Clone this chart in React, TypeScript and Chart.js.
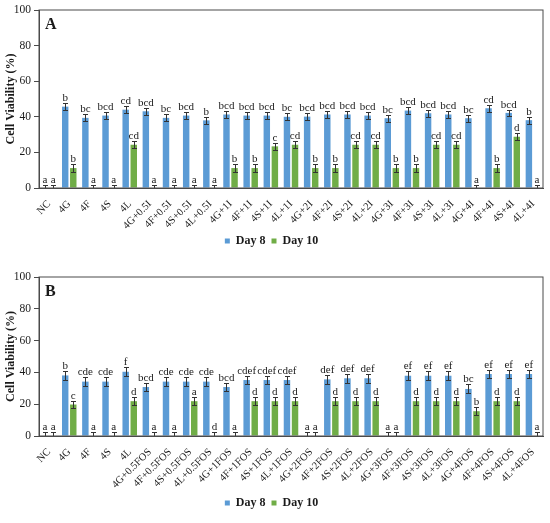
import { useEffect, useRef } from "react";
import { Chart, registerables } from "chart.js";

Chart.register(...registerables);

const SERIF = '"Liberation Serif", "Times New Roman", serif';
const BLUE = "#5B9BD5";
const GREEN = "#70AD47";
const INK = "#1a1a1a";
const LINE = "#4a4a4a";

const seriesNames = ["Day 8", "Day 10"];
const yTicksMax = 100;
const yTickStep = 20;

// ---------- Panel A ----------
const categoriesA = [
  "NC", "4G", "4F", "4S", "4L",
  "4G+0.5I", "4F+0.5I", "4S+0.5I", "4L+0.5I",
  "4G+1I", "4F+1I", "4S+1I", "4L+1I",
  "4G+2I", "4F+2I", "4S+2I", "4L+2I",
  "4G+3I", "4F+3I", "4S+3I", "4L+3I",
  "4G+4I", "4F+4I", "4S+4I", "4L+4I",
];
const day8A = [
  0, 45.7, 39.4, 40.7, 44.0,
  43.1, 39.4, 40.7, 38.0,
  41.3, 40.7, 40.7, 40.0,
  40.1, 41.3, 41.3, 40.7,
  39.2, 43.5, 42.0, 41.3,
  39.2, 44.8, 42.2, 38.1,
];
const day10A = [
  0, 11.2, 0, 0, 24.3,
  0, 0, 0, 0,
  11.2, 11.2, 23.4, 24.3,
  11.2, 11.2, 24.3, 24.3,
  11.2, 11.2, 24.3, 24.3,
  0, 11.2, 28.8, 0,
];
const err8A = [
  1.8, 1.9, 1.9, 1.9, 1.9,
  1.9, 1.9, 1.9, 1.9,
  1.9, 1.9, 1.9, 1.9,
  1.9, 1.9, 1.9, 1.9,
  1.9, 1.9, 1.9, 1.9,
  1.9, 1.9, 1.9, 1.9,
];
const err10A = [
  1.8, 2.1, 1.8, 1.8, 2.1,
  1.8, 1.8, 1.8, 1.8,
  2.1, 2.1, 2.1, 2.1,
  2.1, 2.1, 2.1, 2.1,
  2.1, 2.1, 2.1, 2.1,
  1.8, 2.1, 2.1, 1.8,
];
const letters8A = [
  "a", "b", "bc", "bcd", "cd",
  "bcd", "bc", "bcd", "b",
  "bcd", "bcd", "bcd", "bc",
  "bcd", "bcd", "bcd", "bcd",
  "bc", "bcd", "bcd", "bcd",
  "bc", "cd", "bcd", "b",
];
const letters10A = [
  "a", "b", "a", "a", "cd",
  "a", "a", "a", "a",
  "b", "b", "c", "cd",
  "b", "b", "cd", "cd",
  "b", "b", "cd", "cd",
  "a", "b", "d", "a",
];

// ---------- Panel B ----------
const categoriesB = [
  "NC", "4G", "4F", "4S", "4L",
  "4G+0.5FOS", "4F+0.5FOS", "4S+0.5FOS", "4L+0.5FOS",
  "4G+1FOS", "4F+1FOS", "4S+1FOS", "4L+1FOS",
  "4G+2FOS", "4F+2FOS", "4S+2FOS", "4L+2FOS",
  "4G+3FOS", "4F+3FOS", "4S+3FOS", "4L+3FOS",
  "4G+4FOS", "4F+4FOS", "4S+4FOS", "4L+4FOS",
];
const day8B = [
  0, 38.1, 34.2, 34.2, 40.4,
  30.8, 34.2, 34.2, 34.2,
  30.8, 35.2, 35.2, 35.2,
  0, 35.6, 36.3, 36.3,
  0, 37.9, 37.9, 37.9,
  29.6, 39.0, 39.0, 39.0,
];
const day10B = [
  0, 19.8, 0, 0, 21.9,
  0, 0, 21.9, 0,
  0, 21.9, 21.9, 21.9,
  0, 21.9, 21.9, 21.9,
  0, 21.9, 21.9, 21.9,
  15.6, 21.9, 21.9, 0,
];
const err8B = [
  2.4, 2.8, 2.8, 2.8, 2.8,
  2.8, 2.8, 2.8, 2.8,
  2.8, 2.8, 2.8, 2.8,
  2.4, 2.8, 2.8, 2.8,
  2.4, 2.8, 2.8, 2.8,
  2.8, 2.8, 2.8, 2.8,
];
const err10B = [
  2.4, 2.5, 2.4, 2.4, 2.5,
  2.4, 2.4, 2.5, 2.4,
  2.4, 2.5, 2.5, 2.5,
  2.4, 2.5, 2.5, 2.5,
  2.4, 2.5, 2.5, 2.5,
  2.5, 2.5, 2.5, 2.4,
];
const letters8B = [
  "a", "b", "cde", "cde", "f",
  "bcd", "cde", "cde", "cde",
  "bcd", "cdef", "cdef", "cdef",
  "a", "def", "def", "def",
  "a", "ef", "ef", "ef",
  "bc", "ef", "ef", "ef",
];
const letters10B = [
  "a", "c", "a", "a", "d",
  "a", "a", "a", "d",
  "a", "d", "d", "d",
  "a", "d", "d", "d",
  "a", "d", "d", "d",
  "b", "d", "d", "a",
];

const annotatePlugin = {
  id: "annotate",
  afterDatasetsDraw(chart: any, _args: any, opts: any) {
    const { ctx, chartArea } = chart;
    const yScale = chart.scales.y;
    chart.data.datasets.forEach((ds: any, di: number) => {
      const meta = chart.getDatasetMeta(di);
      const errs: number[] = opts.errors[di];
      const lets: string[] = opts.letters[di];
      meta.data.forEach((bar: any, i: number) => {
        const v = ds.data[i] as number;
        const e = errs[i];
        const x = Math.round(bar.x) + 0.5;
        const yTop = Math.round(yScale.getPixelForValue(v + e)) + 0.5;
        const yBot = Math.round(yScale.getPixelForValue(v - e)) + 0.5;
        ctx.save();
        ctx.beginPath();
        ctx.rect(chartArea.left, chartArea.top, chartArea.width, chartArea.height);
        ctx.clip();
        ctx.strokeStyle = "#333333";
        ctx.lineWidth = 1;
        ctx.beginPath();
        ctx.moveTo(x, yTop);
        ctx.lineTo(x, yBot);
        ctx.moveTo(x - 2.5, yTop);
        ctx.lineTo(x + 2.5, yTop);
        ctx.moveTo(x - 2.5, yBot);
        ctx.lineTo(x + 2.5, yBot);
        ctx.stroke();
        ctx.restore();
        ctx.save();
        ctx.fillStyle = INK;
        ctx.font = `11px ${SERIF}`;
        ctx.textAlign = "center";
        ctx.textBaseline = "alphabetic";
        ctx.fillText(lets[i], bar.x, yTop - 3);
        ctx.restore();
      });
    });
    ctx.save();
    ctx.strokeStyle = LINE;
    ctx.lineWidth = 1;
    ctx.strokeRect(chartArea.left, chartArea.top, chartArea.width, chartArea.height);
    ctx.fillStyle = INK;
    ctx.font = `bold 16px ${SERIF}`;
    ctx.textAlign = "left";
    ctx.textBaseline = "alphabetic";
    ctx.fillText(opts.panel, chartArea.left + 6, chartArea.top + 19);
    ctx.restore();
  },
};

type PanelProps = {
  height: number;
  categories: string[];
  day8: number[];
  day10: number[];
  err8: number[];
  err10: number[];
  letters8: string[];
  letters10: string[];
  panel: string;
  padTop: number;
  padBottom: number;
  xHeight: number;
};

function Panel(p: PanelProps) {
  const ref = useRef<HTMLCanvasElement | null>(null);
  useEffect(() => {
    if (!ref.current) return;
    const chart = new Chart(ref.current, {
      type: "bar",
      data: {
        labels: p.categories,
        datasets: [
          {
            label: seriesNames[0],
            data: p.day8,
            backgroundColor: BLUE,
            borderWidth: 0,
            categoryPercentage: 0.8,
            barPercentage: 0.8,
          },
          {
            label: seriesNames[1],
            data: p.day10,
            backgroundColor: GREEN,
            borderWidth: 0,
            categoryPercentage: 0.8,
            barPercentage: 0.8,
          },
        ],
      },
      options: {
        responsive: false,
        animation: false,
        devicePixelRatio: 1,
        layout: { padding: { top: p.padTop, right: 7, bottom: p.padBottom, left: 0 } },
        plugins: {
          legend: {
            position: "bottom",
            labels: {
              boxWidth: 5,
              boxHeight: 5,
              padding: 6,
              color: INK,
              font: { family: SERIF, size: 12, weight: "bold" },
            },
          },
          tooltip: { enabled: false },
          annotate: {
            errors: [p.err8, p.err10],
            letters: [p.letters8, p.letters10],
            panel: p.panel,
          },
        } as any,
        scales: {
          x: {
            grid: { display: false },
            border: { display: true, color: LINE },
            ticks: {
              autoSkip: false,
              maxRotation: 45,
              minRotation: 45,
              padding: 2,
              color: INK,
              font: { family: SERIF, size: 10.5 },
            },
            afterFit: (s: any) => {
              s.height = p.xHeight;
            },
          },
          y: {
            min: 0,
            max: yTicksMax,
            ticks: {
              stepSize: yTickStep,
              padding: 3,
              color: INK,
              font: { family: SERIF, size: 11.5 },
            },
            grid: { display: true, drawOnChartArea: false, tickLength: 5, color: LINE },
            border: { display: true, color: LINE },
            title: {
              display: true,
              text: "Cell Viability (%)",
              color: INK,
              padding: { top: 4, bottom: 0 },
              font: { family: SERIF, size: 12, weight: "bold" },
            },
            afterFit: (s: any) => {
              s.width = 39;
            },
          },
        },
      },
      plugins: [annotatePlugin as any],
    });
    return () => chart.destroy();
  }, []);
  return (
    <canvas
      ref={ref}
      width={550}
      height={p.height}
      style={{ display: "block", width: 550, height: p.height }}
    />
  );
}

export default function App() {
  return (
    <div style={{ position: "absolute", left: 0, top: 0, width: 550, height: 523, background: "#fff" }}>
      <Panel
        height={258}
        categories={categoriesA}
        day8={day8A}
        day10={day10A}
        err8={err8A}
        err10={err10A}
        letters8={letters8A}
        letters10={letters10A}
        panel="A"
        padTop={10}
        padBottom={1}
        xHeight={41}
      />
      <Panel
        height={265}
        categories={categoriesB}
        day8={day8B}
        day10={day10B}
        err8={err8B}
        err10={err10B}
        letters8={letters8B}
        letters10={letters10B}
        panel="B"
        padTop={19}
        padBottom={4}
        xHeight={55}
      />
    </div>
  );
}
